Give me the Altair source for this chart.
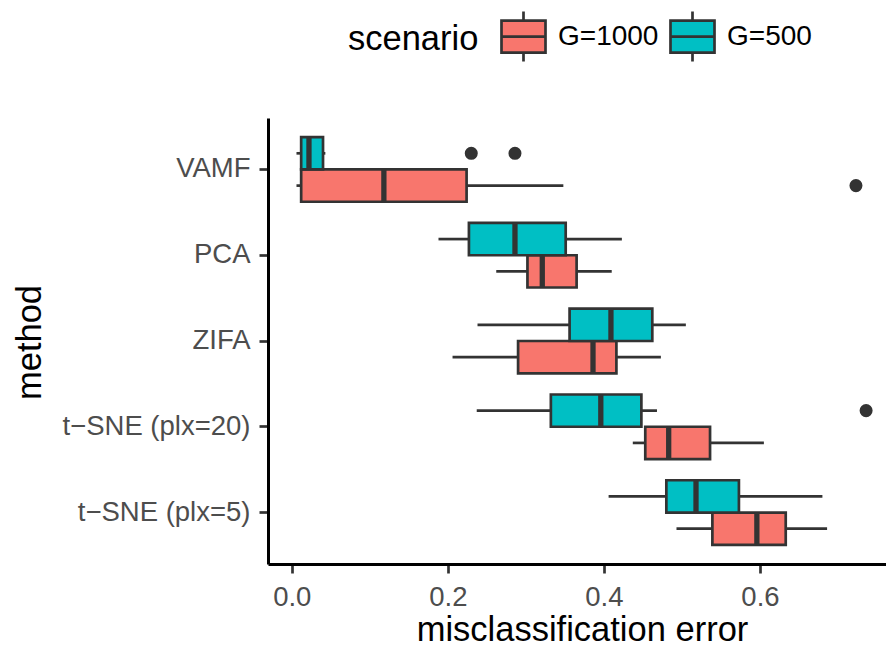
import altair as alt
import pandas as pd

# ---- data ----
methods = ["VAMF", "PCA", "ZIFA", "t\u2212SNE (plx=20)", "t\u2212SNE (plx=5)"]
scenarios = ["G=1000", "G=500"]

g1000_lo  = [0.006, 0.262, 0.206, 0.437, 0.493]
g1000_q1  = [0.012, 0.302, 0.290, 0.453, 0.539]
g1000_med = [0.118, 0.321, 0.386, 0.483, 0.596]
g1000_q3  = [0.224, 0.365, 0.416, 0.536, 0.633]
g1000_hi  = [0.348, 0.410, 0.473, 0.605, 0.686]

g500_lo  = [0.006, 0.188, 0.238, 0.237, 0.406]
g500_q1  = [0.012, 0.227, 0.356, 0.332, 0.480]
g500_med = [0.022, 0.286, 0.409, 0.396, 0.518]
g500_q3  = [0.040, 0.351, 0.462, 0.448, 0.573]
g500_hi  = [0.043, 0.423, 0.505, 0.468, 0.680]

out_method = ["VAMF", "VAMF", "VAMF", "t\u2212SNE (plx=20)"]
out_scenario = ["G=500", "G=500", "G=1000", "G=500"]
out_value = [0.230, 0.286, 0.723, 0.736]

colors = ["#F8766D", "#00BFC4"]

# ---- tables ----
rows = []
for s, stats in [("G=1000", (g1000_lo, g1000_q1, g1000_med, g1000_q3, g1000_hi)),
                 ("G=500", (g500_lo, g500_q1, g500_med, g500_q3, g500_hi))]:
    lo, q1, md, q3, hi = stats
    for i, m in enumerate(methods):
        rows.append({"method": m, "scenario": s, "lo": lo[i], "q1": q1[i],
                     "med": md[i], "q3": q3[i], "hi": hi[i]})
box = pd.DataFrame(rows)
out = pd.DataFrame({"method": out_method, "scenario": out_scenario, "value": out_value})

FONT = "Liberation Sans"
DARK = "#333333"
LW = 2.7

xscale = alt.Scale(domain=[-0.0305, 0.7615], nice=False, zero=False)
xaxis = alt.Axis(values=[0, 0.2, 0.4, 0.6], format=".1f", grid=False,
                 labelFontSize=27.5, labelColor="#4D4D4D", labelPadding=10,
                 tickColor=DARK, tickWidth=LW, tickSize=9,
                 domainColor="black", domainWidth=3,
                 titleFontSize=34.5, titleColor="black", titleFontWeight="normal",
                 titleX=314, titleY=76, titleBaseline="alphabetic", titleAlign="center")
yaxis = alt.Axis(grid=False, labelFontSize=27.5, labelColor="#4D4D4D", labelPadding=9,
                 labelLimit=0,
                 tickColor=DARK, tickWidth=LW, tickSize=9,
                 domainColor="black", domainWidth=3,
                 titleFontSize=34.5, titleColor="black", titleFontWeight="normal",
                 titleAngle=270, titleX=-228, titleY=224, titleBaseline="alphabetic",
                 titleAlign="center")


def X(field):
    return alt.X(field, type="quantitative", scale=xscale, axis=xaxis,
                 title="misclassification error")


Y = alt.Y("method:N", scale=alt.Scale(domain=methods, paddingInner=0, paddingOuter=0.1),
          sort=methods, axis=yaxis, title="method")
YO = alt.YOffset("scenario:N", scale=alt.Scale(domain=["G=500", "G=1000"],
                                               paddingInner=0, paddingOuter=0.328))

legend_symbol = ("M-1,-0.727H1V0.727H-1Z M-1,0H1 "
                 "M0,-0.727V-1.136 M0,0.727V1.136")

base = alt.Chart(box)
w_lo = base.mark_rule(color=DARK, strokeWidth=LW).encode(x=X("lo"), x2="q1:Q", y=Y, yOffset=YO)
w_hi = base.mark_rule(color=DARK, strokeWidth=LW).encode(x=X("q3"), x2="hi:Q", y=Y, yOffset=YO)
boxes = base.mark_bar(stroke=DARK, strokeWidth=LW, opacity=1).encode(
    x=X("q1"), x2="q3:Q", y=Y, yOffset=YO,
    fill=alt.Fill("scenario:N", scale=alt.Scale(domain=scenarios, range=colors),
                  legend=alt.Legend(orient="none", legendX=80, legendY=-105,
                                    direction="horizontal", title="scenario",
                                    titleOrient="left", titleFontSize=34.5,
                                    titleFontWeight="normal", titleColor="black",
                                    titlePadding=21, labelFontSize=28,
                                    labelColor="black", labelOffset=11,
                                    columnPadding=6, symbolType=legend_symbol,
                                    symbolSize=1936, symbolStrokeColor=DARK,
                                    symbolStrokeWidth=LW)))
med = base.mark_tick(color=DARK, thickness=5.3, size=32.3, opacity=1).encode(
    x=X("med"), y=Y, yOffset=YO)
pts = alt.Chart(out).mark_circle(color=DARK, size=170, opacity=1).encode(
    x=X("value"), y=Y, yOffset=YO)

chart = alt.layer(w_lo, w_hi, boxes, med, pts).properties(
    width=618, height=446,
    autosize=alt.AutoSizeParams(type="none"),
    padding={"left": 268, "top": 118, "right": 0, "bottom": 82},
).configure(font=FONT).configure_view(stroke="transparent", strokeWidth=0).configure_axis(
    labelFont=FONT, titleFont=FONT).configure_legend(labelFont=FONT, titleFont=FONT)

chart.save("out.html", embed_options={"renderer": "svg", "actions": False})
